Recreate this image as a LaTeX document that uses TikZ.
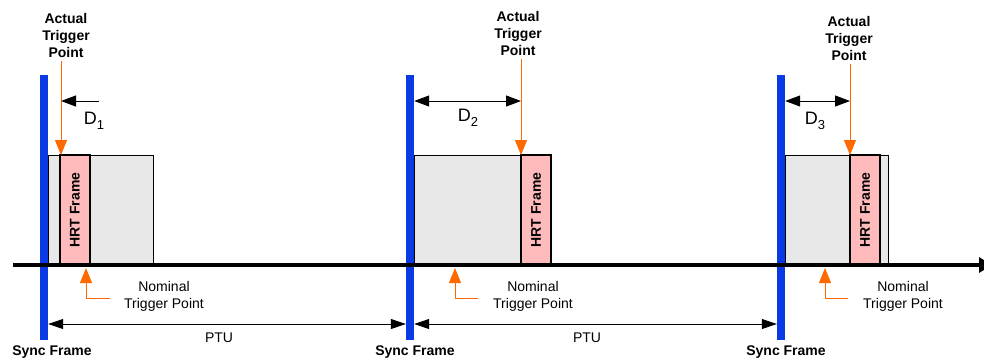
\documentclass[tikz,border=0pt]{standalone}
\usepackage{fontspec}
\setmainfont{Liberation Sans}
\usetikzlibrary{arrows.meta}
\definecolor{syncblue}{RGB}{10,58,230}
\definecolor{trigorange}{RGB}{255,106,0}
\definecolor{hrtpink}{RGB}{255,187,187}
\definecolor{slotgray}{RGB}{232,232,232}
\begin{document}
\begin{tikzpicture}[x=1pt,y=-1pt,
	lbl/.style={font=\fontsize{14}{17}\selectfont,align=center,inner sep=0pt},
	boldlbl/.style={font=\fontsize{14}{17}\selectfont\bfseries,align=center,inner sep=0pt},
	dlbl/.style={font=\fontsize{18}{18}\selectfont,inner sep=0pt},
	syncbar/.style={fill=syncblue,inner sep=0pt,minimum width=8pt,minimum height=265pt},
	slot/.style={draw,line width=0.8pt,fill=slotgray},
	hrt/.style={draw,line width=1.2pt,fill=hrtpink,rotate=90,inner sep=0pt,minimum width=110pt,minimum height=30pt,font=\fontsize{14}{17}\selectfont\bfseries},
	trig/.style={trigorange,line width=1pt,-{Triangle[length=15pt,width=12pt]}},
	dist/.style={line width=1pt,{Triangle[length=15pt,width=11pt]}-{Triangle[length=15pt,width=11pt]}},
	ptuarr/.style={line width=0.8pt,{Triangle[length=15pt,width=10pt]}-{Triangle[length=15pt,width=10pt]}}]
	\useasboundingbox (0,0) rectangle (984,360);
	\node[syncbar] (bar1) at (44,207.5) {};
	\node[syncbar] (bar2) at (410,207.5) {};
	\node[syncbar] (bar3) at (781,207.5) {};
	\draw[slot] (48,155) rectangle (153,265);
	\draw[slot] (414,155) rectangle (521,265);
	\draw[slot] (785,155) rectangle (888,265);
	\node[hrt] (hrt1) at (75,210) {HRT Frame};
	\node[hrt] (hrt2) at (536,210) {HRT Frame};
	\node[hrt] (hrt3) at (865,210) {HRT Frame};
	\draw[line width=3.2pt,-{Triangle[length=13pt,width=15pt]}] (13,265) -- (992,265);
	\node[boldlbl] (act1) at (66,35) {Actual\\Trigger\\Point};
	\node[boldlbl] (act2) at (518,33) {Actual\\Trigger\\Point};
	\node[boldlbl] (act3) at (849,38) {Actual\\Trigger\\Point};
	\coordinate (tp1) at (61,155);
	\coordinate (tp2) at (521,155);
	\coordinate (tp3) at (850,155);
	\draw[trig] (act1.south -| tp1) ++(0,4) -- (tp1);
	\draw[trig] (act2.south -| tp2) ++(0,4) -- (tp2);
	\draw[trig] (act3.south -| tp3) ++(0,4) -- (tp3);
	\coordinate (d1end) at (99,101);
	\draw[line width=1pt,-{Triangle[length=15pt,width=11pt]}] (d1end) -- (d1end -| tp1);
	\draw[dist] (bar2.east |- 0,101) -- (tp2 |- 0,101);
	\draw[dist] (bar3.east |- 0,101) -- (tp3 |- 0,101);
	\node[dlbl] (d1) at (94,121) {D\raisebox{-5pt}{\fontsize{13}{13}\selectfont 1}};
	\node[dlbl] (d2) at (468,118) {D\raisebox{-5pt}{\fontsize{13}{13}\selectfont 2}};
	\node[dlbl] (d3) at (815,121) {D\raisebox{-5pt}{\fontsize{13}{13}\selectfont 3}};
	\node[lbl] (nom1) at (164,296) {Nominal\\Trigger Point};
	\node[lbl] (nom2) at (533,296) {Nominal\\Trigger Point};
	\node[lbl] (nom3) at (903,296) {Nominal\\Trigger Point};
	\coordinate (nt1) at (86,268);
	\coordinate (nt2) at (455,268);
	\coordinate (nt3) at (825,268);
	\draw[trig] (110,298) -- (nt1 |- 0,298) -- (nt1);
	\draw[trig] (478,298) -- (nt2 |- 0,298) -- (nt2);
	\draw[trig] (848,298) -- (nt3 |- 0,298) -- (nt3);
	\draw[ptuarr] (bar1.east |- 0,324) -- (bar2.west |- 0,324);
	\draw[ptuarr] (bar2.east |- 0,324) -- (bar3.west |- 0,324);
	\node[lbl] (ptu1) at (219,338) {PTU};
	\node[lbl] (ptu2) at (587,338) {PTU};
	\node[boldlbl] (sync1) at (52,352) {Sync Frame};
	\node[boldlbl] (sync2) at (415,352) {Sync Frame};
	\node[boldlbl] (sync3) at (786,352) {Sync Frame};
\end{tikzpicture}
\end{document}
